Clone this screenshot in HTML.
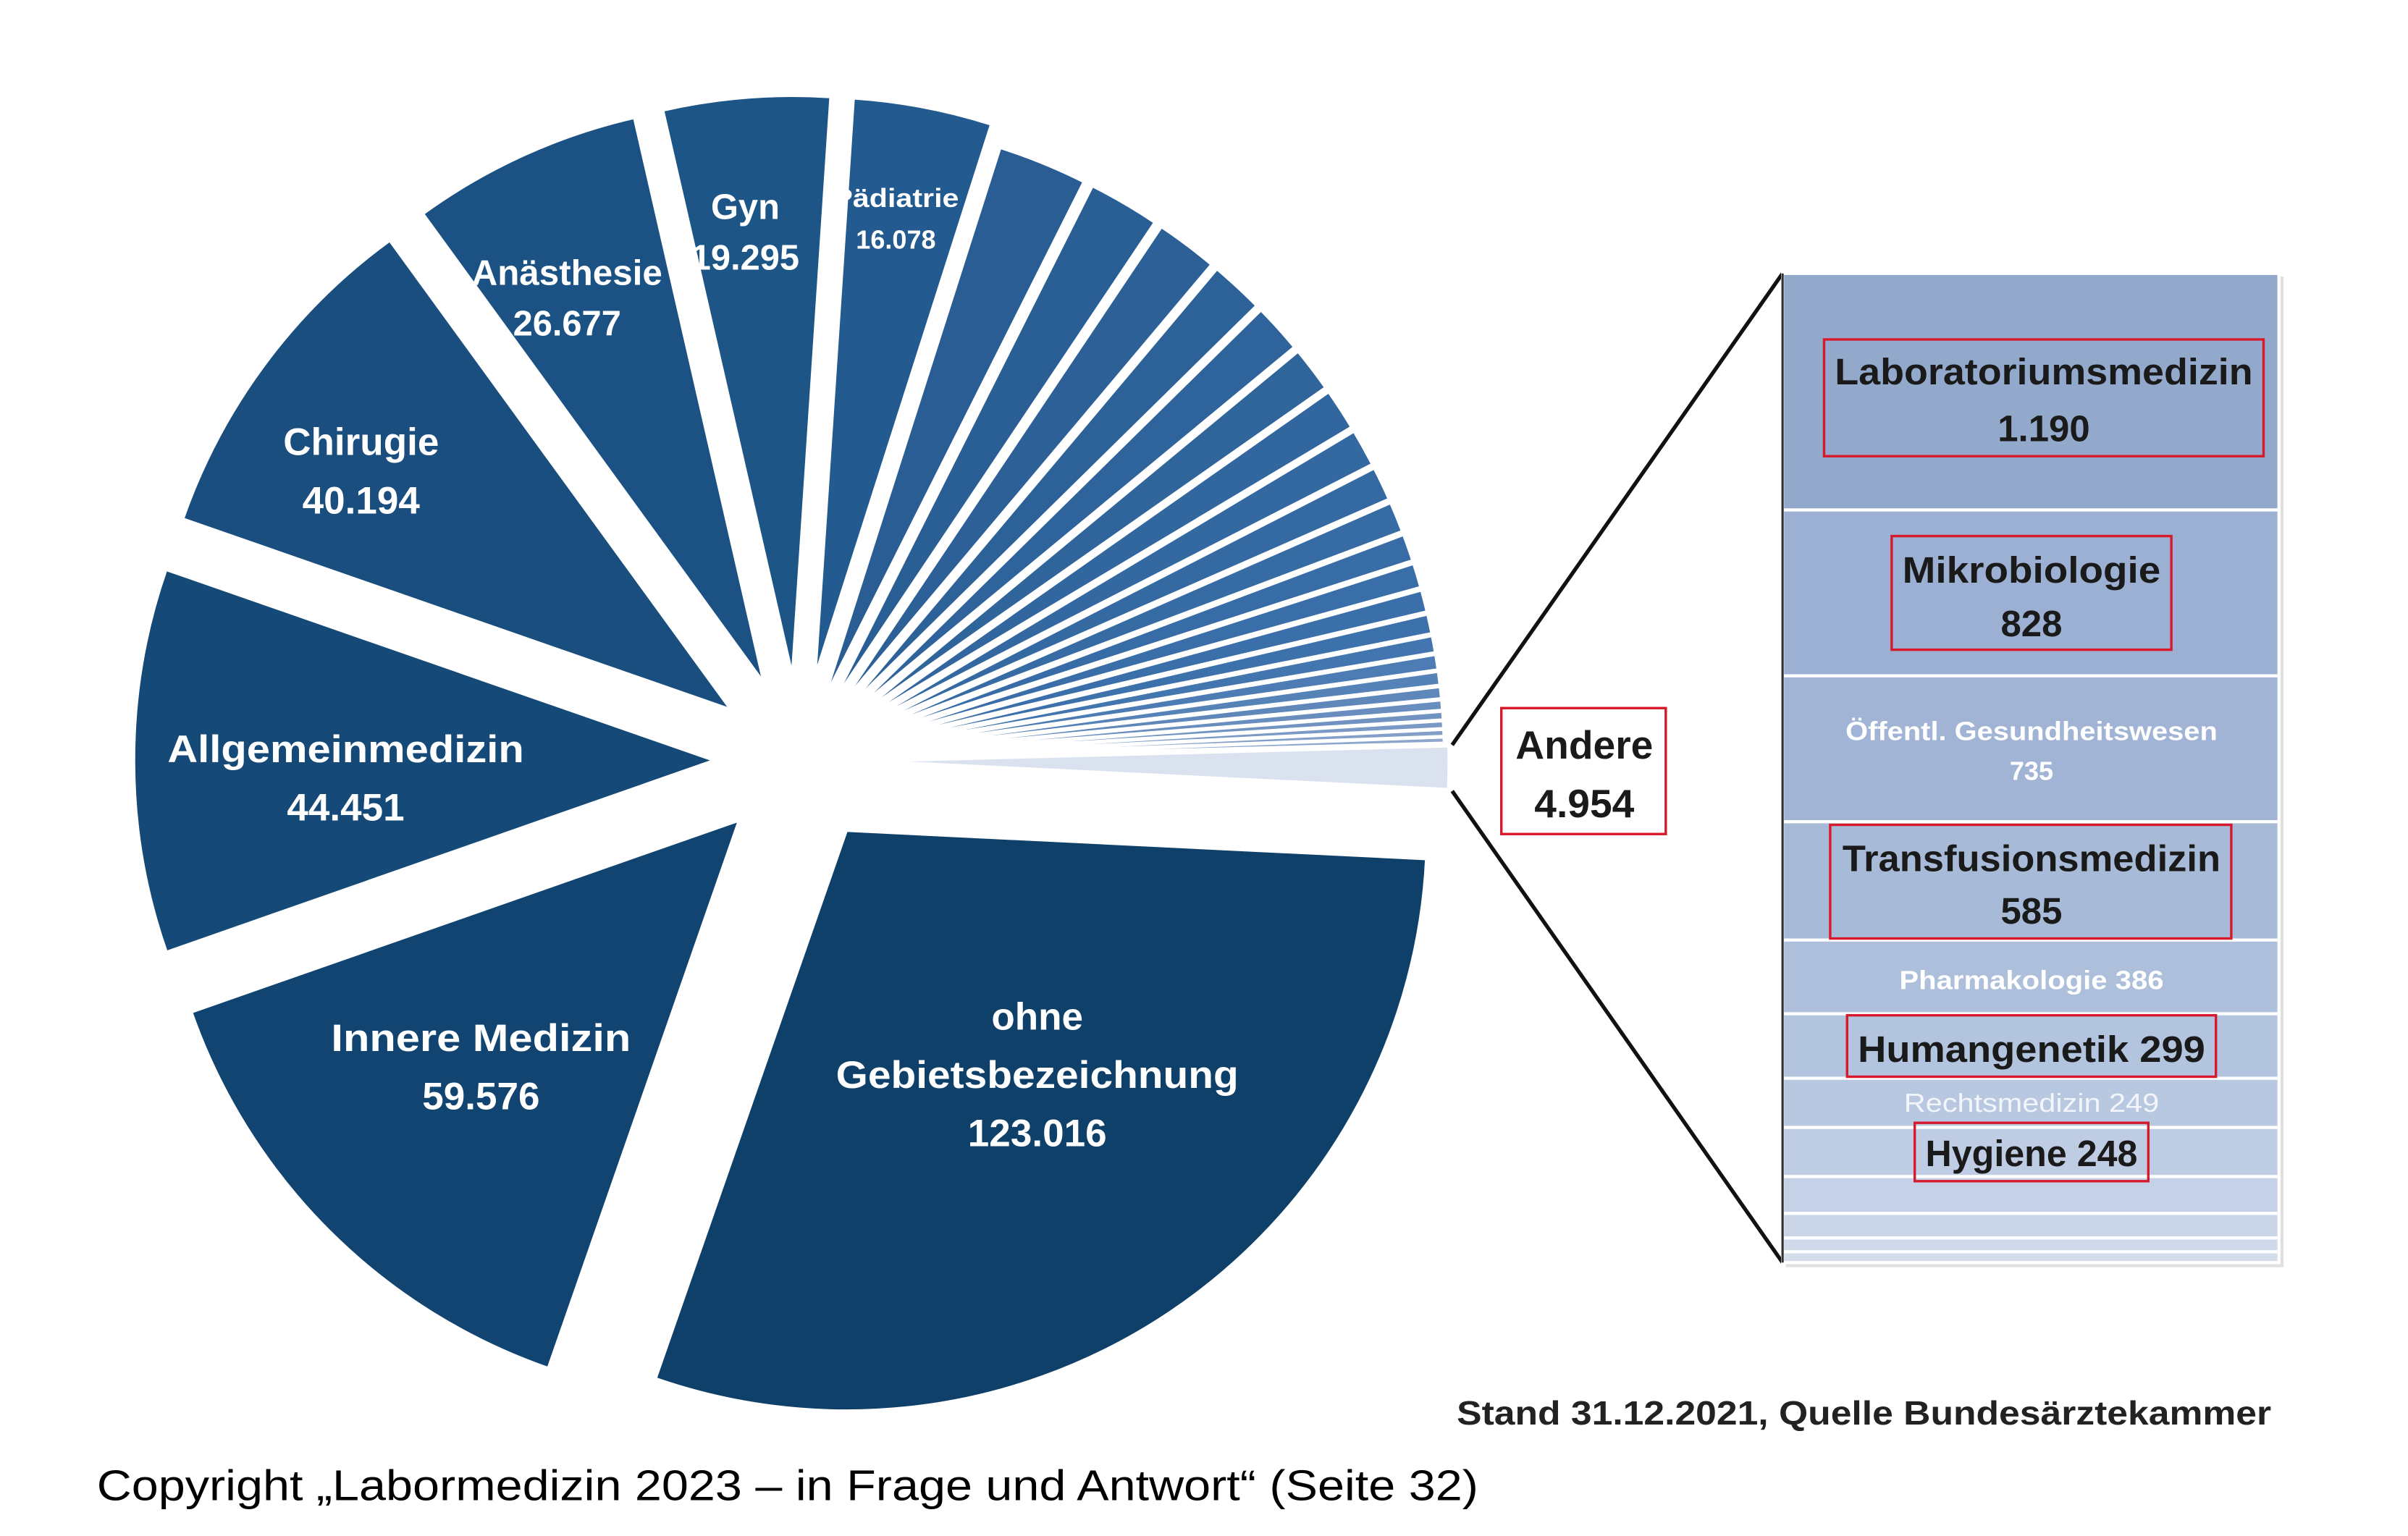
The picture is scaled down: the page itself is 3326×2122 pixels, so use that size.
<!DOCTYPE html>
<html><head><meta charset="utf-8"><style>
html,body{margin:0;padding:0;background:#fff;}
svg{display:block;}
text{font-family:"Liberation Sans",sans-serif;}
</style></head><body>
<svg id="s" width="3326" height="2122" viewBox="0 0 1567 1000" preserveAspectRatio="none" xmlns="http://www.w3.org/2000/svg">
<rect width="1567" height="1000" fill="#fff"/>
<g id="pie"></g>
<line x1="945" y1="485" x2="1160" y2="178" stroke="#111" stroke-width="2.5"/>
<line x1="945" y1="515" x2="1160" y2="822" stroke="#111" stroke-width="2.5"/>
<rect x="1162" y="180" width="324" height="645" fill="#e0e0e0"/>
<g stroke="#fff" stroke-width="2">
<rect x="1160" y="178" width="323" height="154" fill="#93a9cc"/>
<rect x="1160" y="332" width="323" height="108" fill="#9bb0d2"/>
<rect x="1160" y="440" width="323" height="95" fill="#a1b4d5"/>
<rect x="1160" y="535" width="323" height="77" fill="#a7bad8"/>
<rect x="1160" y="612" width="323" height="48" fill="#adbfdb"/>
<rect x="1160" y="660" width="323" height="42" fill="#b3c4de"/>
<rect x="1160" y="702" width="323" height="32" fill="#b9c8e1"/>
<rect x="1160" y="734" width="323" height="32" fill="#bfcde4"/>
<rect x="1160" y="766" width="323" height="24" fill="#c5d1e6"/>
<rect x="1160" y="790" width="323" height="16" fill="#cad5e8"/>
<rect x="1160" y="806" width="323" height="9" fill="#cfd9ea"/>
<rect x="1160" y="815" width="323" height="7" fill="#d4ddec"/>
</g>
<line x1="1160" y1="178" x2="1160" y2="822" stroke="#333" stroke-width="1.5"/>
<g fill="none" stroke="#d7192b" stroke-width="1.6">
<rect x="1187" y="221" width="286" height="76"/>
<rect x="1231" y="349" width="182" height="74"/>
<rect x="1191" y="537" width="261" height="74"/>
<rect x="1202" y="661" width="240" height="40"/>
<rect x="1246" y="731" width="152" height="38"/>
<rect x="977" y="461" width="107" height="82"/>
</g>
<g font-weight="bold" fill="#1a1a1a" text-anchor="middle" dominant-baseline="central" font-size="24">
<text x="1330" y="242" textLength="272" lengthAdjust="spacingAndGlyphs">Laboratoriumsmedizin</text>
<text x="1330" y="279">1.190</text>
<text x="1322" y="371" textLength="168" lengthAdjust="spacingAndGlyphs">Mikrobiologie</text>
<text x="1322" y="406">828</text>
<text x="1322" y="559" textLength="246" lengthAdjust="spacingAndGlyphs">Transfusionsmedizin</text>
<text x="1322" y="593">585</text>
<text x="1322" y="683" textLength="226" lengthAdjust="spacingAndGlyphs">Humangenetik 299</text>
<text x="1322" y="751" textLength="138" lengthAdjust="spacingAndGlyphs">Hygiene 248</text>
<text x="1031" y="485" font-size="26">Andere</text>
<text x="1031" y="523" font-size="26">4.954</text>
</g>
<g font-weight="bold" fill="#fff" text-anchor="middle" dominant-baseline="central" font-size="17">
<text x="1322" y="476" textLength="242" lengthAdjust="spacingAndGlyphs">Öffentl. Gesundheitswesen</text>
<text x="1322" y="502">735</text>
<text x="1322" y="638" textLength="172" lengthAdjust="spacingAndGlyphs">Pharmakologie 386</text>
</g>
<text x="1322" y="718" fill="#f2f5fa" text-anchor="middle" dominant-baseline="central" font-size="17" textLength="166" lengthAdjust="spacingAndGlyphs">Rechtsmedizin 249</text>
<g font-weight="bold" fill="#fff" text-anchor="middle" dominant-baseline="central" font-size="25">
<text x="675" y="662">ohne</text>
<text x="675" y="700" textLength="262" lengthAdjust="spacingAndGlyphs">Gebietsbezeichnung</text>
<text x="675" y="738">123.016</text>
<text x="313" y="676" textLength="195" lengthAdjust="spacingAndGlyphs">Innere Medizin</text>
<text x="313" y="714">59.576</text>
<text x="225" y="488" textLength="232" lengthAdjust="spacingAndGlyphs">Allgemeinmedizin</text>
<text x="225" y="526">44.451</text>
<text x="235" y="288">Chirugie</text>
<text x="235" y="326">40.194</text>
<text x="369" y="178" font-size="23" textLength="124" lengthAdjust="spacingAndGlyphs">Anästhesie</text>
<text x="369" y="211" font-size="23">26.677</text>
<text x="485" y="135" font-size="23">Gyn</text>
<text x="485" y="168" font-size="23">19.295</text>
<text x="583" y="129" font-size="17" textLength="82" lengthAdjust="spacingAndGlyphs">Pädiatrie</text>
<text x="583" y="156" font-size="17">16.078</text>
</g>
<text x="1213" y="920" font-weight="bold" fill="#222" text-anchor="middle" dominant-baseline="central" font-size="22" textLength="530" lengthAdjust="spacingAndGlyphs">Stand 31.12.2021, Quelle Bundesärztekammer</text>
<text x="63" y="967" fill="#000" dominant-baseline="central" font-size="28" textLength="899" lengthAdjust="spacingAndGlyphs">Copyright „Labormedizin 2023 – in Frage und Antwort“ (Seite 32)</text>
</svg>
<script>
(function(){
var g=document.getElementById('pie');
var cx=520,cy=495,R=378;
function rad(d){return d*Math.PI/180;}
function slice(a1,a2,off,col){
 var b=rad((a1+a2)/2);
 var ax=cx+off*Math.cos(b), ay=cy+off*Math.sin(b);
 var x1=ax+R*Math.cos(rad(a1)), y1=ay+R*Math.sin(rad(a1));
 var x2=ax+R*Math.cos(rad(a2)), y2=ay+R*Math.sin(rad(a2));
 var large=(a2-a1)>180?1:0;
 var p=document.createElementNS('http://www.w3.org/2000/svg','path');
 p.setAttribute('d','M'+ax+','+ay+'L'+x1+','+y1+'A'+R+','+R+' 0 '+large+' 1 '+x2+','+y2+'Z');
 p.setAttribute('fill',col);p.setAttribute('stroke','#fff');p.setAttribute('stroke-width','2');
 p.setAttribute('stroke-linejoin','round');
 g.appendChild(p);
}
var big=[[2.8,109.2,'#0f4069'],[109.2,160.7,'#124471'],[160.7,199.2,'#154a78'],[199.2,234,'#194e7f'],[234,257.1,'#1b5283'],[257.1,273.8,'#1e5587'],[273.8,287.7,'#235a8f']];
big.forEach(function(s){slice(s[0],s[1],55,s[2]);});
var vals=[10500,8400,7300,6300,5800,5300,4900,4400,4000,3600,3200,2900,2600,2300,2000,1800,1600,1400,1200,1000,900,800,700];
var tot=vals.reduce(function(a,b){return a+b;},0);
var a=287.7,span=358.5-287.7,n=vals.length;
var c0=[41,93,147],c1=[60,113,172],c2=[140,165,205];
vals.forEach(function(v,i){
 var w=v/tot*span;var t=i/(n-1);var c;
 if(t<0.6){var u=t/0.6;c=c0.map(function(x,k){return Math.round(x+(c1[k]-x)*u);});}
 else{var u2=(t-0.6)/0.4;c=c1.map(function(x,k){return Math.round(x+(c2[k]-x)*u2);});}
 slice(a,a+w,42,'rgb('+c.join(',')+')');a+=w;
});
slice(358.5,362.8,45,'#dbe2ef');
})();
</script>
</body></html>
